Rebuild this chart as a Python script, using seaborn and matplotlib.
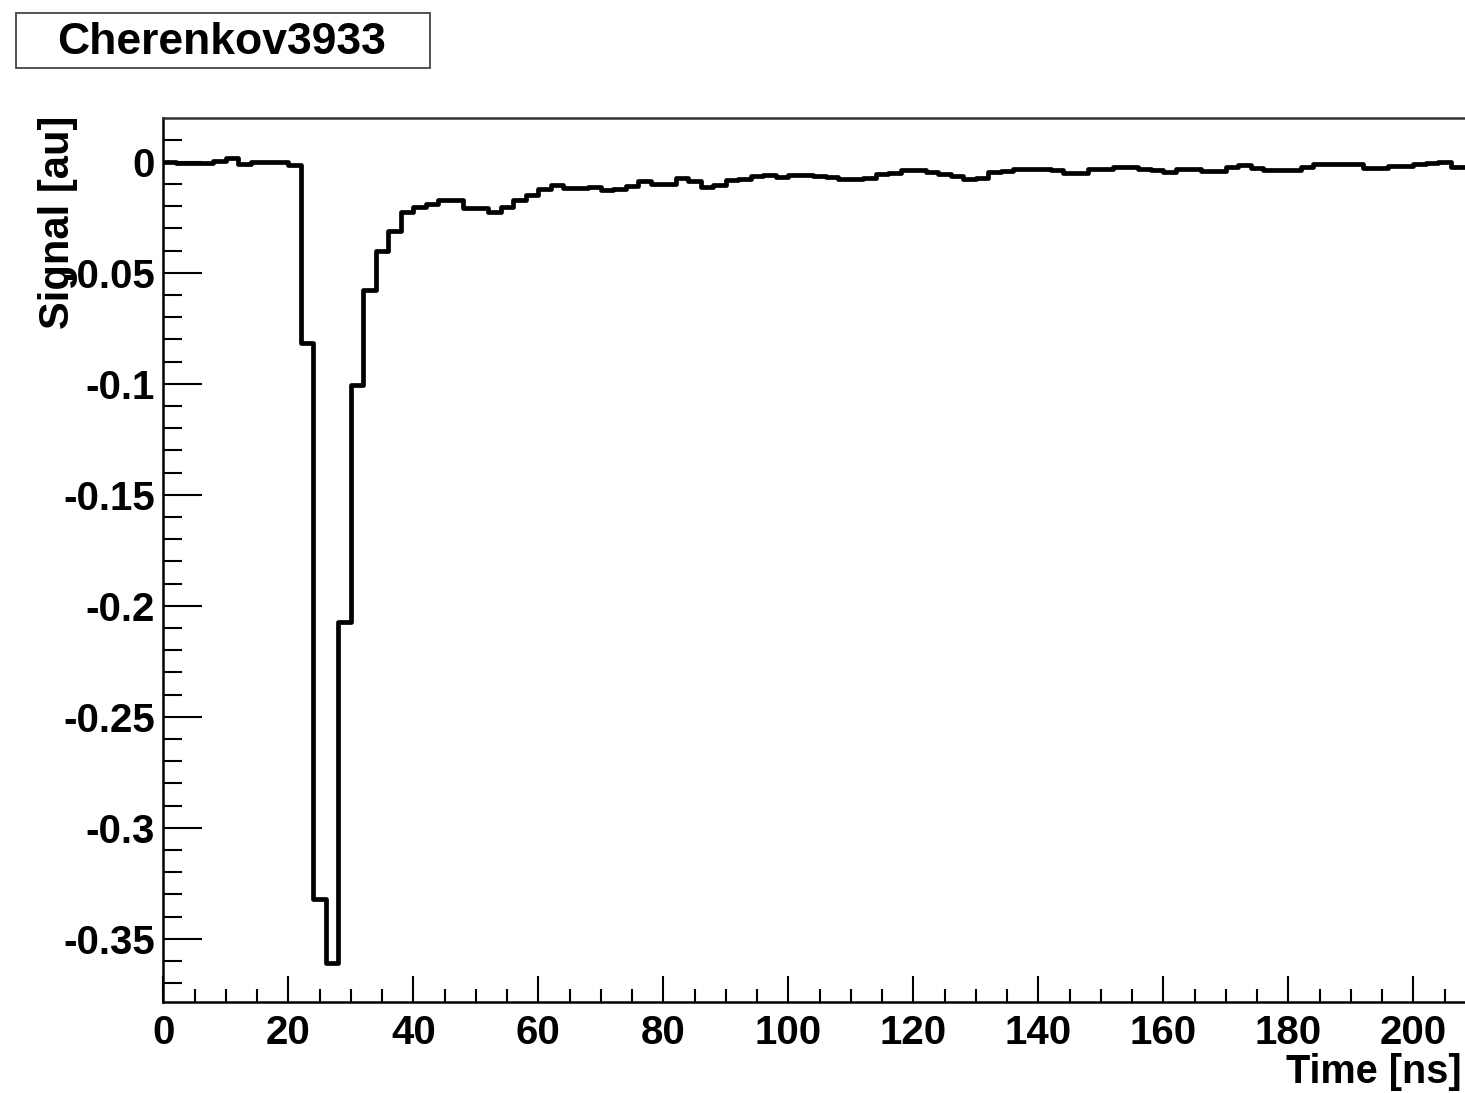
import numpy as np
import pandas as pd
import seaborn as sns
import matplotlib
matplotlib.use("Agg")
import matplotlib.pyplot as plt
from matplotlib.ticker import MultipleLocator, FuncFormatter
from matplotlib.patches import Rectangle

# Waveform of channel Cherenkov3933, 2 ns bins from 0 to 210 ns
bin_width = 2.0
baseline = [0.0, -0.0005, -0.0007, -0.0006, 0.0004, 0.0018, -0.0010, 0.0, 0.0, 0.0, -0.0013]
pulse = [-0.0817, -0.332, -0.361, -0.2074, -0.1006, -0.0578, -0.0402, -0.0312]
recovery = [-0.0226, -0.0206, -0.0189, -0.0172, -0.0172, -0.0208, -0.0208, -0.0226,
            -0.0206, -0.0172, -0.0150, -0.0125, -0.0105, -0.0119, -0.0119, -0.0114,
            -0.0129, -0.0124, -0.0109, -0.0089, -0.0099, -0.0099, -0.0074, -0.0089,
            -0.0116, -0.0104, -0.0084, -0.0079, -0.0064, -0.0062, -0.0068, -0.0058]
tail_mid = [-0.0059, -0.0066, -0.0069, -0.0076, -0.0078, -0.0074, -0.0057, -0.0052,
            -0.0039, -0.0039, -0.0048, -0.0057, -0.0064, -0.0076, -0.0074, -0.0044,
            -0.0042, -0.0034, -0.0034, -0.0033, -0.0039, -0.0052, -0.0049, -0.0034,
            -0.0032, -0.0024, -0.0024, -0.0033]
tail_end = [-0.0039, -0.0045, -0.0034, -0.0033, -0.0042, -0.0042, -0.0024, -0.0014,
            -0.0029, -0.0036, -0.0036, -0.0036, -0.0024, -0.0012, -0.0012, -0.0010,
            -0.0008, -0.0026, -0.0026, -0.0019, -0.0018, -0.0012, -0.0006, -0.0002,
            -0.0023, -0.0025]

title = "Cherenkov3933"
x_label = "Time [ns]"
y_label = "Signal [au]"

signal = np.array(baseline + pulse + recovery + tail_mid + tail_end)
edges = np.arange(len(signal) + 1) * bin_width
# step outline: each bin value held from its lower edge to the next edge
df = pd.DataFrame({"time": edges, "signal": np.append(signal, signal[-1])})

sns.set_theme(style="white")
plt.rcParams["font.family"] = ["Liberation Sans", "DejaVu Sans"]
plt.rcParams["font.weight"] = "bold"
plt.rcParams["axes.unicode_minus"] = False

W, H = 1465, 1093
fig = plt.figure(figsize=(W / 100, H / 100), dpi=100)
fig.patch.set_facecolor("white")

# axes frame in pixel coordinates (right edge runs past the canvas)
left_px, right_px, top_px, bottom_px = 163.3, 163.3 + 210 * 6.25, 118.0, 1002.0
ax = fig.add_axes([left_px / W, 1 - bottom_px / H,
                   (right_px - left_px) / W, (bottom_px - top_px) / H])

sns.lineplot(data=df, x="time", y="signal", drawstyle="steps-post",
             color="black", linewidth=3.4, ax=ax)

ax.set_xlim(0, 210)
ax.set_ylim(-0.3785, 0.0197)
ax.set_xlabel("")
ax.set_ylabel("")

ax.xaxis.set_major_locator(MultipleLocator(20))
ax.xaxis.set_minor_locator(MultipleLocator(5))
ax.yaxis.set_major_locator(MultipleLocator(0.05))
ax.yaxis.set_minor_locator(MultipleLocator(0.01))
ax.yaxis.set_major_formatter(FuncFormatter(lambda v, p: "0" if abs(v) < 1e-9 else f"{v:g}"))

ax.tick_params(axis="both", which="both", direction="in", color="black",
               labelsize=29, labelcolor="black")
ax.tick_params(axis="y", which="major", length=28, width=1.5, pad=6)
ax.tick_params(axis="y", which="minor", length=14, width=1.5)
ax.tick_params(axis="x", which="major", length=19, width=1.5, pad=9)
ax.tick_params(axis="x", which="minor", length=9.5, width=1.5)
ax.tick_params(left=True, bottom=True, right=False, top=False, which="both")
for lab in ax.get_xticklabels() + ax.get_yticklabels():
    lab.set_fontweight("bold")

for side in ["left", "bottom", "top", "right"]:
    ax.spines[side].set_visible(True)
    ax.spines[side].set_color("black")
    ax.spines[side].set_linewidth(1.8)
ax.spines["top"].set_color("#333333")

fig.text(1462 / W, 1 - 1091 / H, x_label, ha="right", va="bottom",
         fontsize=28.5, fontweight="bold", color="black")
fig.text(58 / W, 1 - 116 / H, y_label, rotation=90, ha="center", va="top",
         fontsize=30, fontweight="bold", color="black")

# title box
fig.patches.append(Rectangle((16 / W, 1 - 68 / H), (430 - 16) / W, (68 - 13) / H,
                             transform=fig.transFigure, facecolor="white",
                             edgecolor="#444444", linewidth=1.3))
fig.text(222 / W, 1 - 42 / H, title, ha="center", va="center",
         fontsize=32, fontweight="bold", color="black")

fig.savefig("out.png", dpi=100, facecolor="white")
